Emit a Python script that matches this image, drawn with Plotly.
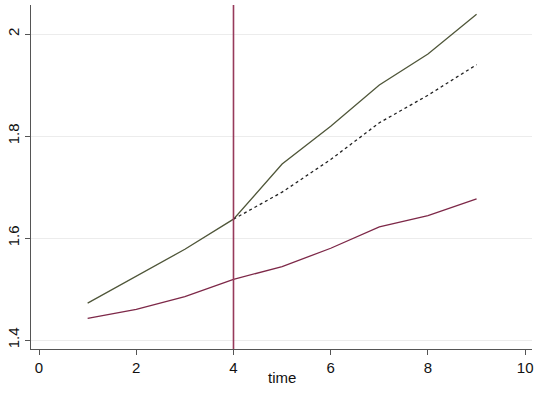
import plotly.graph_objects as go

time = [1, 2, 3, 4, 5, 6, 7, 8, 9]
treated = [1.4725, 1.5255, 1.578, 1.637, 1.745, 1.819, 1.900, 1.961, 2.039]
counterfactual_time = [4, 5, 6, 7, 8, 9]
counterfactual = [1.637, 1.690, 1.754, 1.826, 1.880, 1.940]
control = [1.4425, 1.460, 1.485, 1.519, 1.544, 1.580, 1.622, 1.644, 1.677]
intervention_time = 4
x_title = "time"

x_ticks = [0, 2, 4, 6, 8, 10]
y_ticks = [1.4, 1.6, 1.8, 2.0]
y_tick_labels = ["1.4", "1.6", "1.8", "2"]

green = "#4f5639"
maroon = "#7d2848"
vline_color = "#973a5b"

fig = go.Figure()
fig.add_trace(go.Scatter(x=time, y=treated, mode="lines",
                         line=dict(color=green, width=1.3), showlegend=False))
fig.add_trace(go.Scatter(x=counterfactual_time, y=counterfactual, mode="lines",
                         line=dict(color="#222222", width=1.3, dash="3px,3px"), showlegend=False))
fig.add_trace(go.Scatter(x=time, y=control, mode="lines",
                         line=dict(color=maroon, width=1.3), showlegend=False))

fig.add_shape(type="line", xref="x", yref="paper", x0=intervention_time, x1=intervention_time,
              y0=0, y1=1, line=dict(color=vline_color, width=1.6))

font = dict(family="Liberation Sans, Arial, sans-serif", size=15, color="#111111")

fig.add_annotation(text=x_title, xref="paper", yref="paper", x=0.5, y=-0.084,
                   xanchor="center", yanchor="middle", showarrow=False, font=font)

fig.update_layout(
    width=540, height=393,
    margin=dict(l=31, r=8, t=5, b=44),
    paper_bgcolor="white", plot_bgcolor="white",
    font=font,
    xaxis=dict(range=[-0.165, 10.14], tickvals=x_ticks, showgrid=False, zeroline=False,
               showline=True, linecolor="#555555", linewidth=1,
               ticks="outside", ticklen=5, tickcolor="#555555"),
    yaxis=dict(range=[1.3824, 2.057], tickvals=y_ticks, ticktext=y_tick_labels,
               tickangle=-90, showgrid=True, gridcolor="#ececec", gridwidth=1,
               zeroline=False, showline=True, linecolor="#555555", linewidth=1,
               ticks="outside", ticklen=5, tickcolor="#555555"),
)

fig.write_html("out.html")
